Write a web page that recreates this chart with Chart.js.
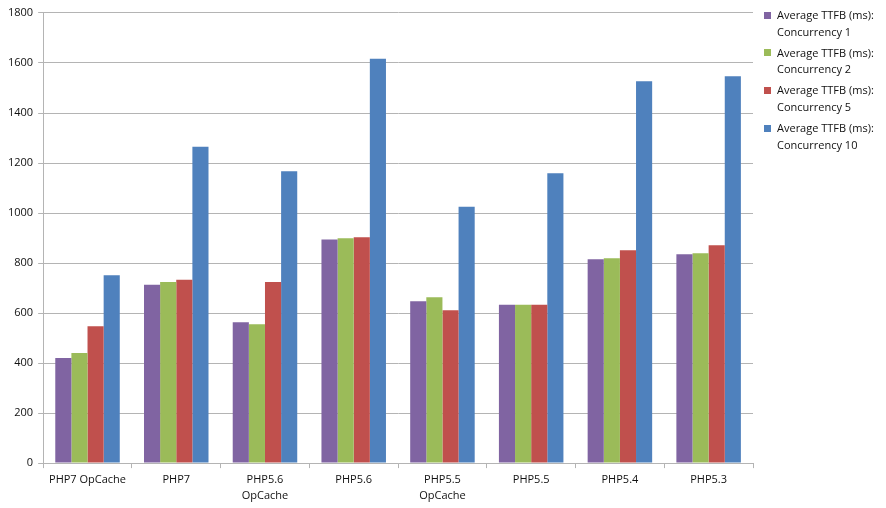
<!DOCTYPE html>
<html>
<head>
<meta charset="utf-8">
<script src="https://cdn.jsdelivr.net/npm/chart.js@4.4.1/dist/chart.umd.min.js"></script>
<style>
  html, body { margin: 0; padding: 0; background: #fff; }
  #wrap { position: relative; width: 886px; height: 508px; }
  #legend { position: absolute; left: 764px; top: 7px; font: 11px "Open Sans", sans-serif; color: #111; }
  .item { position: relative; padding-left: 13px; line-height: 16.7px; margin-bottom: 4.3px; }
  .box { position: absolute; left: 0; top: 4.5px; width: 7px; height: 7px; }
</style>
</head>
<body>
<div id="wrap">
  <canvas id="ttfbChart" width="886" height="508"></canvas>
  <div id="legend"></div>
</div>
<script>
const categories = [
  'PHP7 OpCache', 'PHP7', ['PHP5.6', 'OpCache'], 'PHP5.6',
  ['PHP5.5', 'OpCache'], 'PHP5.5', 'PHP5.4', 'PHP5.3'
];
const seriesNames = [
  'Average TTFB (ms): Concurrency 1',
  'Average TTFB (ms): Concurrency 2',
  'Average TTFB (ms): Concurrency 5',
  'Average TTFB (ms): Concurrency 10'
];
const concurrency1 = [420, 713, 563, 894, 647, 633, 815, 835];
const concurrency2 = [440, 724, 555, 899, 663, 633, 819, 839];
const concurrency5 = [547, 733, 724, 903, 611, 633, 851, 871];
const concurrency10 = [751, 1265, 1167, 1617, 1025, 1159, 1527, 1547];
const yTicks = [0, 200, 400, 600, 800, 1000, 1200, 1400, 1600, 1800];

const colors = ['#8064A2', '#9BBB59', '#C0504D', '#4F81BD'];
const values = [concurrency1, concurrency2, concurrency5, concurrency10];

const gridGrey = '#b4b4b4';
const font = { family: '"Open Sans", sans-serif', size: 11, lineHeight: 1.45 };

const ctx = document.getElementById('ttfbChart').getContext('2d');
new Chart(ctx, {
  type: 'bar',
  data: {
    labels: categories,
    datasets: values.map(function(v, i) {
      return {
        label: seriesNames[i],
        data: v,
        backgroundColor: colors[i],
        borderWidth: 0,
        categoryPercentage: 0.727,
        barPercentage: 1
      };
    })
  },
  options: {
    responsive: false,
    animation: false,
    layout: { padding: { top: 3, right: 133, left: 3, bottom: 0 } },
    plugins: { legend: { display: false }, tooltip: { enabled: false } },
    scales: {
      x: {
        grid: { drawOnChartArea: false, drawTicks: true, tickLength: 5, color: gridGrey },
        border: { color: gridGrey },
        ticks: { color: '#111', font: font, padding: 4, maxRotation: 0, autoSkip: false }
      },
      y: {
        min: 0,
        max: 1800,
        afterBuildTicks: function(axis) {
          axis.ticks = yTicks.map(function(t) { return { value: t }; });
        },
        grid: { color: gridGrey, tickLength: 5 },
        border: { color: gridGrey },
        ticks: {
          color: '#111',
          font: font,
          padding: 5,
          callback: function(value) { return String(value); }
        }
      }
    }
  }
});

// legend on the right, two lines per entry as in the original
const legend = document.getElementById('legend');
seriesNames.forEach(function(name, i) {
  const item = document.createElement('div');
  item.className = 'item';
  const box = document.createElement('span');
  box.className = 'box';
  box.style.background = colors[i];
  item.appendChild(box);
  const parts = name.split(': ');
  item.appendChild(document.createTextNode(parts[0] + ':'));
  item.appendChild(document.createElement('br'));
  item.appendChild(document.createTextNode(parts[1]));
  legend.appendChild(item);
});
</script>
</body>
</html>
